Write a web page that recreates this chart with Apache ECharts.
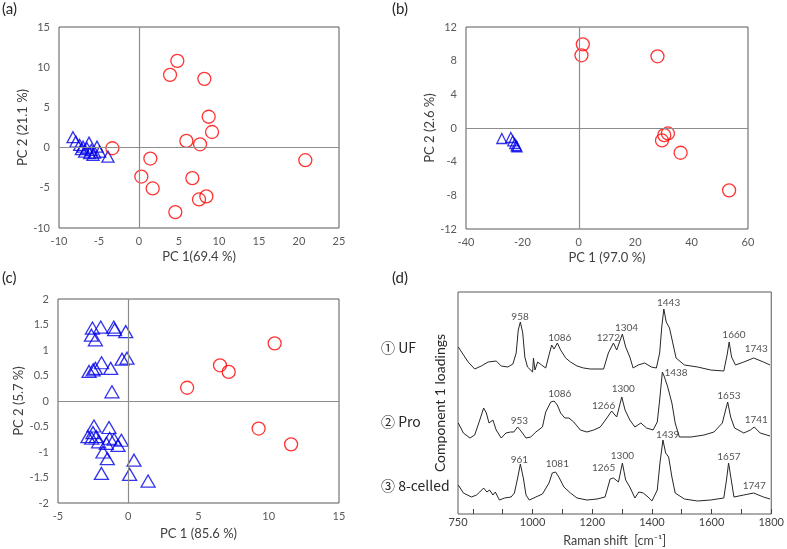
<!DOCTYPE html>
<html><head><meta charset="utf-8">
<script src="https://cdn.jsdelivr.net/npm/echarts@6/dist/echarts.min.js"></script>
<style>html,body{margin:0;padding:0;background:#fff}#c{width:787px;height:549px}</style>
</head><body><div id="c"></div>
<script>
// ---- Panel (a) ----
const aCircles = [[-3.33,-0.08],[4.79,10.79],[3.88,9.05],[8.17,8.55],[8.71,3.84],[9.13,1.94],[5.92,0.83],[7.63,0.41],[1.42,-1.36],[0.29,-3.6],[1.71,-5.08],[6.67,-3.8],[7.5,-6.45],[8.42,-6.07],[4.54,-8.02],[20.79,-1.57]];
const aTriangles = [[-8.25,1.29],[-7.9,0.74],[-7.42,0.33],[-7.0,0.12],[-6.25,0.62],[-6.5,-0.08],[-5.96,-0.29],[-5.25,0.12],[-6.17,-0.7],[-5.54,-0.62],[-4.92,-0.5],[-6.79,-0.5],[-3.88,-1.12],[-7.2,-0.2],[-5.75,-0.9]];
// ---- Panel (b) ----
const bCircles = [[1.42,9.94],[0.95,8.64],[27.9,8.52],[30.3,-0.85],[31.6,-0.65],[29.5,-1.48],[36.1,-2.94],[53.3,-7.41]];
const bTriangles = [[-27.3,-1.25],[-24.1,-1.13],[-23.4,-1.52],[-22.7,-1.84],[-22.2,-2.11],[-21.9,-2.23]];
// ---- Panel (c) ----
const cCircles = [[10.42,1.13],[6.53,0.70],[7.15,0.57],[4.19,0.26],[9.28,-0.54],[11.59,-0.85]];
const cTriangles = [[-2.55,1.43],[-1.96,1.45],[-1.03,1.45],[-0.18,1.36],[-2.62,1.29],[-2.34,1.20],[-0.97,1.4],
 [-1.9,0.75],[-2.79,0.58],[-2.5,0.61],[-2.34,0.64],[-1.25,0.64],[-0.44,0.82],[-0.09,0.84],[-1.16,0.18],
 [-2.44,-0.49],[-1.37,-0.52],[-2.87,-0.70],[-2.51,-0.62],[-2.11,-0.80],[-0.49,-0.77],[-1.01,-0.75],[-1.32,-0.73],
 [-1.8,-1.0],[-1.49,-1.13],[0.41,-1.16],[-1.91,-1.42],[0.1,-1.44],[1.41,-1.57],[-2.27,-0.7],[-2.6,-0.73],[-0.73,-0.87],[-1.56,-0.83]];
// ---- Panel (d): loadings (Raman shift, offset intensity) ----
const specUF = [[751,167],[762,162],[784,152],[806,145],[828,148],[851,152],[878,153],[895,148],[917,147],[934,150],[945,161],[952,184],[959,192],[967,181],[974,157],[983,147],[1000,142],[1003,156],[1008,144],[1017,152],[1030,149],[1044,146],[1055,159],[1064,169],[1072,165],[1083,171],[1094,164],[1111,156],[1127,152],[1149,148],[1171,146],[1193,145],[1216,145],[1238,145],[1243,147],[1254,161],[1271,171],[1282,164],[1301,180],[1312,167],[1326,157],[1337,146],[1354,149],[1376,151],[1398,147],[1415,146],[1426,161],[1433,187],[1440,205],[1448,192],[1459,186],[1470,171],[1481,156],[1509,149],[1553,147],[1597,144],[1641,143],[1652,159],[1659,172],[1667,157],[1680,149],[1708,152],[1741,156],[1774,152],[1796,149]];
const specPro = [[751,91],[768,81],[790,76],[806,79],[823,94],[836,106],[845,101],[854,91],[867,94],[878,84],[895,76],[911,81],[926,82],[937,82],[950,87],[961,83],[978,76],[994,77],[1011,82],[1033,87],[1044,102],[1061,112],[1072,113],[1083,109],[1094,101],[1108,96],[1122,96],[1138,92],[1160,84],[1182,82],[1205,84],[1227,87],[1249,96],[1265,103],[1282,97],[1299,117],[1310,104],[1326,94],[1343,87],[1363,91],[1382,86],[1404,84],[1418,92],[1426,114],[1435,142],[1442,137],[1453,127],[1467,111],[1478,91],[1492,77],[1531,77],[1575,79],[1608,82],[1636,91],[1647,104],[1654,112],[1664,97],[1677,86],[1708,81],[1730,84],[1743,87],[1763,81],[1796,78]];
const spec8 = [[751,29],[768,21],[795,17],[812,19],[823,22],[836,26],[847,22],[856,24],[867,19],[875,22],[889,14],[906,16],[928,17],[939,21],[950,36],[959,50],[969,36],[978,19],[989,14],[1011,17],[1033,20],[1055,31],[1066,41],[1077,42],[1088,37],[1105,27],[1127,21],[1149,16],[1182,14],[1216,15],[1243,17],[1260,35],[1271,36],[1288,32],[1301,51],[1312,34],[1326,27],[1343,16],[1356,22],[1371,21],[1387,17],[1400,13],[1418,24],[1427,51],[1437,74],[1446,61],[1456,57],[1467,37],[1478,21],[1509,15],[1553,13],[1597,14],[1641,16],[1650,34],[1657,51],[1666,34],[1675,17],[1708,19],[1741,21],[1774,17],[1796,15]];
const peaksUF = [[958,197,'958'],[1091,176,'1086'],[1254,176,'1272'],[1315,186,'1304'],[1456,211,'1443'],[1675,179,'1660'],[1750,165,'1743']];
const peaksPro = [[956,93,'953'],[1091,120,'1086'],[1238,108,'1266'],[1304,125,'1300'],[1481,141,'1438'],[1658,118,'1653'],[1750,94,'1741']];
const peaks8 = [[956,54,'961'],[1083,50,'1081'],[1238,46,'1265'],[1301,58,'1300'],[1453,79,'1439'],[1658,57,'1657'],[1743,28,'1747']];
const dTicks = [800,900,1000,1100,1200,1300,1400,1500,1600,1700,1800];
const dLabels = [750,1000,1200,1400,1600,1800];
const specNames = ['① UF','② Pro','③ 8-celled'];
const panelLetters = ['(a)','(b)','(c)','(d)'];

const FONT = "Lato, 'Noto Sans', sans-serif";
const RED = '#ff0000', BLUE = '#0000e6', FRAME = '#595959', ZERO = '#8c8c8c';
const tickLbl = {color:'#595959', fontSize:11, fontFamily:FONT};
const nameStyle = {color:'#404040', fontSize:13, fontFamily:FONT};

function valAxis(idx, min, max, interval, name, gap, isY){
  return {gridIndex:idx, type:'value', min, max, interval, name, nameLocation:'middle', nameGap:gap,
    nameTextStyle:nameStyle, axisLine:{show:false}, axisTick:{show:false}, splitLine:{show:false},
    axisLabel:Object.assign({margin: isY?9:8}, tickLbl)};
}
function circles(idx, data, size){
  return {type:'scatter', xAxisIndex:idx, yAxisIndex:idx, data, symbol:'circle', symbolSize:size,
    itemStyle:{color:'rgba(0,0,0,0)', borderColor:RED, borderWidth:1.3}, z:3};
}
function tris(idx, data, size){
  return {type:'scatter', xAxisIndex:idx, yAxisIndex:idx, data, symbol:'triangle', symbolSize:size,
    itemStyle:{color:'rgba(0,0,0,0)', borderColor:BLUE, borderWidth:1.3}, z:3};
}
function zeroLines(idx){
  return {type:'line', xAxisIndex:idx, yAxisIndex:idx, data:[], z:2,
    markLine:{silent:true, symbol:'none', label:{show:false}, animation:false,
      lineStyle:{color:ZERO, type:'solid', width:1.2}, data:[{xAxis:0},{yAxis:0}]}};
}
function spec(data){
  return {type:'line', xAxisIndex:3, yAxisIndex:3, data, showSymbol:false, symbol:'none',
    lineStyle:{color:'#262626', width:1}, z:3};
}
function peaks(data){
  return {type:'scatter', xAxisIndex:3, yAxisIndex:3, data, symbolSize:0, z:4,
    label:{show:true, position:'inside', formatter:p=>p.value[2], color:'#262626', fontSize:10, fontFamily:FONT}};
}

const chart = echarts.init(document.getElementById('c'), null, {renderer:'canvas'});
const grids = [
  {left:59, top:27, width:280, height:201},
  {left:466, top:27, width:282, height:202},
  {left:58, top:299, width:281, height:204},
  {left:458, top:292, width:316, height:222}
].map(g=>Object.assign({show:true, borderColor:FRAME, borderWidth:1, backgroundColor:'transparent'}, g));

const xAxes = [
  valAxis(0,-10,25,5,'PC 1(69.4 %)',22,false),
  valAxis(1,-40,60,20,'PC 1 (97.0 %)',22,false),
  valAxis(2,-5,15,5,'PC 1 (85.6 %)',24,false),
  {gridIndex:3, type:'value', min:750, max:1800, name:'Raman shift  [cm⁻¹]', nameLocation:'middle', nameGap:20,
    nameTextStyle:{color:'#404040', fontSize:12.5, fontFamily:FONT},
    axisLine:{show:false}, splitLine:{show:false},
    axisTick:{show:true, inside:true, length:5, customValues:dTicks, lineStyle:{color:'#404040'}},
    axisLabel:Object.assign({margin:3, customValues:dLabels, formatter:v=>String(v)}, tickLbl, {color:'#404040'})}
];
const yAxes = [
  valAxis(0,-10,15,5,'PC 2 (21.1 %)',27,true),
  valAxis(1,-12,12,4,'PC 2 (2.6 %)',26,true),
  valAxis(2,-2,2,0.5,'PC 2 (5.7 %)',33,true),
  {gridIndex:3, type:'value', min:0, max:222, name:'Component 1 loadings', nameLocation:'middle', nameGap:11,
    nameTextStyle:{color:'#262626', fontSize:14, fontFamily:FONT},
    axisLine:{show:false}, axisTick:{show:false}, axisLabel:{show:false}, splitLine:{show:false}}
];

const letterPos = [[2,2],[392,2],[2,271],[392,271]];
const namePos = [[381,341],[381,415],[381,479]];
const graphics = [];
panelLetters.forEach((t,i)=>graphics.push({type:'text', left:letterPos[i][0], top:letterPos[i][1],
  style:{text:t, fontSize:15, fontFamily:FONT, fill:'#262626'}}));
specNames.forEach((t,i)=>graphics.push({type:'text', left:namePos[i][0], top:namePos[i][1],
  style:{text:t, fontSize:14, fontFamily:"'Noto Sans CJK JP', sans-serif", fill:'#262626'}}));

chart.setOption({
  animation:false,
  grid:grids, xAxis:xAxes, yAxis:yAxes, graphic:graphics,
  series:[
    zeroLines(0), zeroLines(1), zeroLines(2),
    tris(0,aTriangles,[12,11]), circles(0,aCircles,13),
    tris(1,bTriangles,[10,10]), circles(1,bCircles,13),
    tris(2,cTriangles,[14,12]), circles(2,cCircles,13),
    spec(specUF), spec(specPro), spec(spec8),
    peaks(peaksUF), peaks(peaksPro), peaks(peaks8)
  ]
});
</script></body></html>
